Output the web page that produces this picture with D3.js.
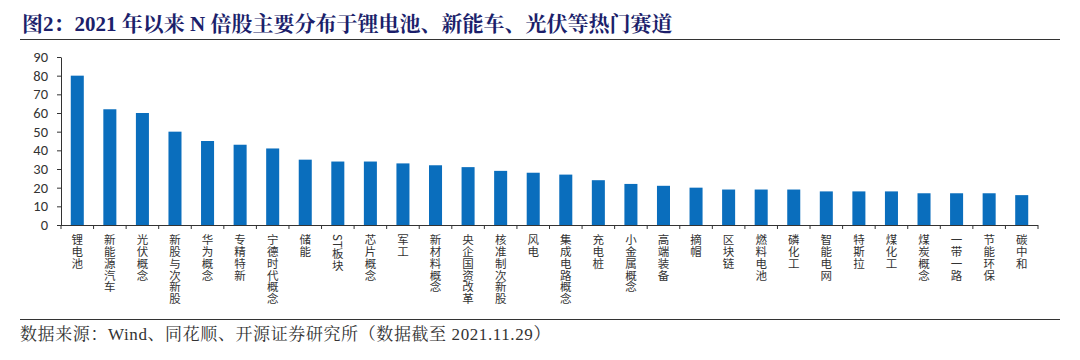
<!DOCTYPE html>
<html><head><meta charset="utf-8">
<script src="https://cdn.jsdelivr.net/npm/d3@7/dist/d3.min.js"></script>
<style>
html,body{margin:0;padding:0;background:#fff;}
svg{display:block;}
</style></head>
<body><svg id="c" width="1080" height="360"></svg>
<script>
const title = "图2：2021 年以来 N 倍股主要分布于锂电池、新能车、光伏等热门赛道";
const source = "数据来源：Wind、同花顺、开源证券研究所（数据截至 2021.11.29）";
const categories = ["锂电池","新能源汽车","光伏概念","新股与次新股","华为概念","专精特新","宁德时代概念","储能","ST板块","芯片概念","军工","新材料概念","央企国资改革","核准制次新股","风电","集成电路概念","充电桩","小金属概念","高端装备","摘帽","区块链","燃料电池","磷化工","智能电网","特斯拉","煤化工","煤炭概念","一带一路","节能环保","碳中和"];
const values = [80,62,60,50,45,43,41,35,34,34,33,32,31,29,28,27,24,22,21,20,19,19,19,18,18,18,17,17,17,16];
const yTicks = [0,10,20,30,40,50,60,70,80,90];

const svg = d3.select("#c");
// title
svg.append("text").attr("x",22).attr("y",31)
  .attr("font-family","'Liberation Serif','Noto Serif CJK SC','Noto Sans CJK SC',serif")
  .attr("font-weight","bold").attr("font-size",21).attr("fill","#1c1f6b")
  .text(title);
svg.append("line").attr("x1",20).attr("x2",1060).attr("y1",39.5).attr("y2",39.5)
  .attr("stroke","#333").attr("stroke-width",1.2);
svg.append("line").attr("x1",20).attr("x2",1060).attr("y1",319.5).attr("y2",319.5)
  .attr("stroke","#333").attr("stroke-width",1.2);
svg.append("text").attr("x",20).attr("y",340)
  .attr("font-family","'Liberation Serif','Noto Serif CJK SC','Noto Sans CJK SC',serif")
  .attr("font-size",17).attr("letter-spacing",0.6).attr("fill","#333").text(source);

const x0 = 61, x1 = 1038, yb = 225, yt = 57;
const x = d3.scaleBand().domain(categories).range([x0,x1]).paddingInner(0.6).paddingOuter(0.3);
const y = d3.scaleLinear().domain([0,90]).range([yb,yt]);

svg.append("g").selectAll("rect").data(values).join("rect")
  .attr("x",(d,i)=>x(categories[i])).attr("width",x.bandwidth())
  .attr("y",d=>y(d)).attr("height",d=>y(0)-y(d)).attr("fill","#0a6ebd");

// y axis
const ya = svg.append("g").attr("transform",`translate(${x0},0)`)
  .call(d3.axisLeft(y).tickValues(yTicks).tickSize(4).tickPadding(9).tickSizeOuter(0));
ya.select(".domain").attr("stroke","#333");
ya.selectAll(".tick line").attr("stroke","#333");
ya.selectAll("text").attr("font-family","Carlito,'Open Sans','Noto Sans',sans-serif")
  .attr("font-size",14.5).attr("fill","#333");

// x axis with ticks at band boundaries
const step = (x1-x0)/categories.length;
const xb = svg.append("g");
xb.append("line").attr("x1",x0).attr("x2",x1).attr("y1",yb+0.5).attr("y2",yb+0.5).attr("stroke","#333");
xb.selectAll("line.t").data(d3.range(categories.length+1)).join("line").attr("class","t")
  .attr("x1",i=>x0+i*step).attr("x2",i=>x0+i*step).attr("y1",yb).attr("y2",yb+4).attr("stroke","#333");
xb.selectAll("text").data(categories).join("text")
  .attr("x",d=>x(d)+x.bandwidth()/2).attr("y",yb+9)
  .style("writing-mode","vertical-rl")
  .attr("font-family","'Noto Sans CJK SC',sans-serif").attr("font-size",11.5)
  .attr("letter-spacing",0.3)
  .attr("fill","#333").text(d=>d);
</script></body></html>
